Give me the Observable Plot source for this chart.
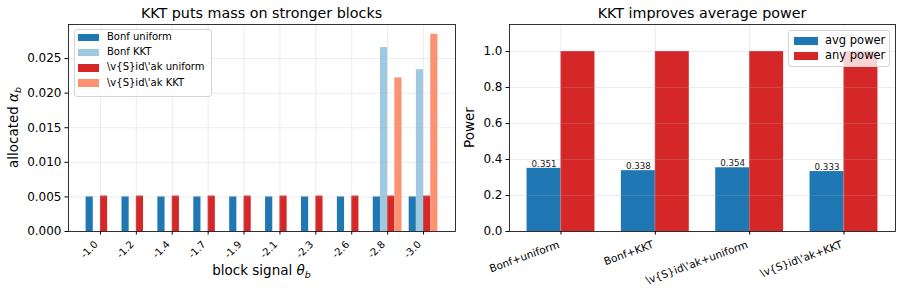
<!DOCTYPE html>
<html>
<head>
<meta charset="utf-8">
<script src="https://cdn.jsdelivr.net/npm/d3@7"></script>
<script src="https://cdn.jsdelivr.net/npm/@observablehq/plot@0.6"></script>
<style>
  body { margin: 0; background: #fff; font-family: "DejaVu Sans", sans-serif; }
  #wrap { position: relative; width: 902px; height: 288px; overflow: hidden; background: #fff; }
  .panel { position: absolute; top: 0; }
  .panel svg { background: transparent !important; max-width: none !important; display: block; }
  #overlay { position: absolute; left: 0; top: 0; pointer-events: none; }
  .legend { position: absolute; background: rgba(255,255,255,0.8); border: 1px solid #d4d4d4; border-radius: 3px; box-sizing: border-box; }
  .legend .sw { position: absolute; }
  .legend .lab { position: absolute; line-height: 1; white-space: nowrap; color: #000; }
</style>
</head>
<body>
<div id="wrap">
  <div class="panel" id="left" style="left:0px"></div>
  <div class="panel" id="right" style="left:460px"></div>
  <div class="legend" id="legL" style="left:74px;top:29px;width:138px;height:68px"></div>
  <div class="legend" id="legR" style="left:788px;top:30px;width:102px;height:37px"></div>
  <svg id="overlay" width="902" height="288"></svg>
</div>
<script>
// ---------- data: left panel ----------
const blocks = ["-1.0", "-1.2", "-1.4", "-1.7", "-1.9", "-2.1", "-2.3", "-2.6", "-2.8", "-3.0"];
const leftNames = ["Bonf uniform", "Bonf KKT", "\\v{S}id\\'ak uniform", "\\v{S}id\\'ak KKT"];
const leftColors = ["#1f77b4", "#9ecae1", "#d62728", "#fc9272"];
const bonfUniform  = [0.005, 0.005, 0.005, 0.005, 0.005, 0.005, 0.005, 0.005, 0.005, 0.005];
const bonfKKT      = [0, 0, 0, 0, 0, 0, 0, 0, 0.0266, 0.0234];
const sidakUniform = [0.00512, 0.00512, 0.00512, 0.00512, 0.00512, 0.00512, 0.00512, 0.00512, 0.00512, 0.00512];
const sidakKKT     = [0, 0, 0, 0, 0, 0, 0, 0, 0.0222, 0.0285];
const leftYTicks = [0, 0.005, 0.010, 0.015, 0.020, 0.025];

// ---------- data: right panel ----------
const methods = ["Bonf+uniform", "Bonf+KKT", "\\v{S}id\\'ak+uniform", "\\v{S}id\\'ak+KKT"];
const powerNames = ["avg power", "any power"];
const powerColors = ["#1f77b4", "#d62728"];
const avgPower = [0.351, 0.338, 0.354, 0.333];
const anyPower = [1.0, 1.0, 1.0, 1.0];
const rightYTicks = [0, 0.2, 0.4, 0.6, 0.8, 1.0];

const FONT = "DejaVu Sans";
const gridStyle = {stroke: "#b0b0b0", strokeOpacity: 0.3, strokeWidth: 0.8};

// rotated tick label offsets (matplotlib-like: bbox top-right at tick)
function rotOffsets(deg, fontSize) {
  const h = 1.164 * fontSize, t = deg * Math.PI / 180;
  return {dx: -(h / 2) * Math.sin(t), dy: 7 + (h / 2) * Math.cos(t)};
}

// ---------- left panel ----------
const wL = 0.2;
const leftSeries = [bonfUniform, bonfKKT, sidakUniform, sidakKKT];
const leftRows = [];
leftSeries.forEach((vals, k) => vals.forEach((v, i) => {
  leftRows.push({i, k, name: leftNames[k], v, x1: i + (k - 2) * wL, x2: i + (k - 1) * wL});
}));
const padL = 0.05 * (blocks.length - 1 + 4 * wL);
const leftIdx = d3.range(blocks.length);
const offL = rotOffsets(45, 10);

const leftPlot = Plot.plot({
  width: 460, height: 288,
  marginLeft: 68, marginRight: 5, marginTop: 24, marginBottom: 57,
  style: {background: "transparent", fontFamily: FONT, color: "black", overflow: "visible"},
  x: {type: "linear", domain: [-2 * wL - padL, blocks.length - 1 + 2 * wL + padL]},
  y: {domain: [0, 0.0285 * 1.05]},
  color: {domain: leftNames, range: leftColors},
  marks: [
    Plot.rect(leftRows, {x1: "x1", x2: "x2", y1: 0, y2: "v", fill: "name"}),
    Plot.gridY(leftYTicks, gridStyle),
    Plot.gridX(leftIdx, gridStyle),
    Plot.axisY(leftYTicks, {tickFormat: d3.format(".3f"), tickSize: 3.5, tickPadding: 3.5, fontSize: 12, label: null}),
    Plot.axisX(leftIdx, {tickSize: 3.5, fill: "none", label: null}),
    Plot.text(leftIdx, {x: d => d, text: d => blocks[d], frameAnchor: "bottom", rotate: -45, textAnchor: "end", lineAnchor: "middle", fontSize: 10, dx: offL.dx, dy: offL.dy, fill: "black"}),
    Plot.frame({stroke: "black", strokeWidth: 0.8})
  ]
});
document.getElementById("left").appendChild(leftPlot);

// ---------- right panel ----------
const wR = 0.36;
const rightRows = [];
methods.forEach((m, i) => {
  rightRows.push({i, name: powerNames[0], v: avgPower[i], x1: i - wR, x2: i});
  rightRows.push({i, name: powerNames[1], v: anyPower[i], x1: i, x2: i + wR});
});
const padR = 0.05 * (methods.length - 1 + 2 * wR);
const rightIdx = d3.range(methods.length);
const avgRows = rightRows.filter(d => d.name === powerNames[0]);
const offR = rotOffsets(20, 10.5);

const rightPlot = Plot.plot({
  width: 442, height: 288,
  marginLeft: 49, marginRight: 7, marginTop: 24, marginBottom: 57,
  style: {background: "transparent", fontFamily: FONT, color: "black", overflow: "visible"},
  x: {type: "linear", domain: [-wR - padR, methods.length - 1 + wR + padR]},
  y: {domain: [0, 1.15]},
  color: {domain: powerNames, range: powerColors},
  marks: [
    Plot.rect(rightRows, {x1: "x1", x2: "x2", y1: 0, y2: "v", fill: "name"}),
    Plot.gridY(rightYTicks, gridStyle),
    Plot.gridX(rightIdx, gridStyle),
    Plot.text(avgRows, {x: d => (d.x1 + d.x2) / 2, y: "v", text: d => d3.format(".3f")(d.v), lineAnchor: "bottom", dy: -1.5, fontSize: 8.7, fill: "#222"}),
    Plot.axisY(rightYTicks, {tickFormat: d3.format(".1f"), tickSize: 3.5, tickPadding: 3.5, fontSize: 12, label: null}),
    Plot.axisX(rightIdx, {tickSize: 3.5, fill: "none", label: null}),
    Plot.text(rightIdx, {x: d => d, text: d => methods[d], frameAnchor: "bottom", rotate: -20, textAnchor: "end", lineAnchor: "middle", fontSize: 10.5, dx: offR.dx, dy: offR.dy, fill: "black"}),
    Plot.frame({stroke: "black", strokeWidth: 0.8})
  ]
});
document.getElementById("right").appendChild(rightPlot);

// ---------- legends ----------
function buildLegend(id, names, colors, opts) {
  const box = document.getElementById(id);
  names.forEach((n, j) => {
    const cy = opts.firstCenter + j * opts.step;
    const sw = document.createElement("div");
    sw.className = "sw";
    sw.style.cssText = `left:${opts.swX}px;top:${cy - opts.swH / 2}px;width:${opts.swW}px;height:${opts.swH}px;background:${colors[j]}`;
    box.appendChild(sw);
    const lab = document.createElement("div");
    lab.className = "lab";
    lab.textContent = n;
    lab.style.cssText = `left:${opts.textX}px;top:${cy - opts.fontSize * 0.55}px;font-size:${opts.fontSize}px;`;
    box.appendChild(lab);
  });
}
buildLegend("legL", leftNames, leftColors, {firstCenter: 7.5, step: 15.2, swX: 3, swW: 21, swH: 7.5, textX: 32, fontSize: 10});
buildLegend("legR", powerNames, powerColors, {firstCenter: 10, step: 15, swX: 4.5, swW: 24, swH: 8, textX: 36, fontSize: 11.5});

// ---------- titles and axis labels ----------
const ov = d3.select("#overlay").attr("font-family", FONT).attr("fill", "black");
ov.append("text").attr("x", 261.5).attr("y", 18).attr("text-anchor", "middle").attr("font-size", 14.3).text("KKT puts mass on stronger blocks");
ov.append("text").attr("x", 702).attr("y", 18).attr("text-anchor", "middle").attr("font-size", 14.3).text("KKT improves average power");

const xl = ov.append("text").attr("x", 261.5).attr("y", 275).attr("text-anchor", "middle").attr("font-size", 13.5);
xl.append("tspan").text("block signal ");
xl.append("tspan").attr("font-style", "italic").text("θ");
xl.append("tspan").attr("font-style", "italic").attr("font-size", 9.5).attr("dy", 3).text("b");

const yl = ov.append("text").attr("transform", "translate(18,127.5) rotate(-90)").attr("text-anchor", "middle").attr("font-size", 13.5);
yl.append("tspan").text("allocated ");
yl.append("tspan").attr("font-style", "italic").text("α");
yl.append("tspan").attr("font-style", "italic").attr("font-size", 9.5).attr("dy", 3).text("b");

ov.append("text").attr("transform", "translate(474,127.5) rotate(-90)").attr("text-anchor", "middle").attr("font-size", 13.5).text("Power");
</script>
</body>
</html>
